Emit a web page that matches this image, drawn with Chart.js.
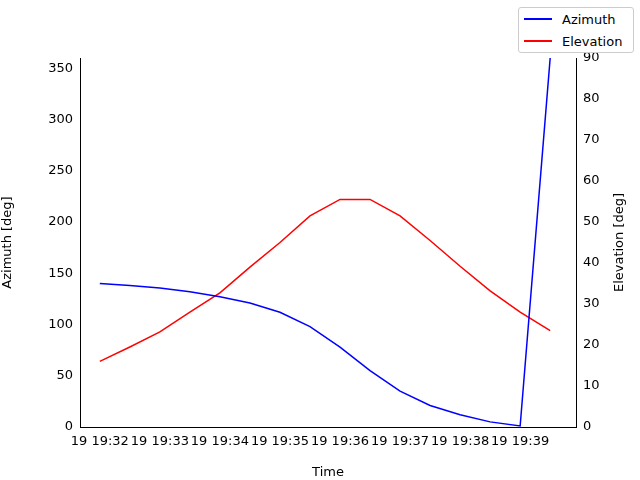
<!DOCTYPE html>
<html>
<head>
<script src="https://cdn.jsdelivr.net/npm/chart.js@4"></script>
<style>
body{margin:0;background:#fff;}
#wrap{position:relative;width:640px;height:480px;}
#legend{position:absolute;left:518px;top:7px;width:114px;height:44px;border:1px solid #ccc;border-radius:3px;background:#fff;font:13px "DejaVu Sans";}
.row{display:flex;align-items:center;height:22px;padding-left:5px;}
.ln{width:28px;height:2px;margin-right:10px;}
</style>
</head>
<body>
<div id="wrap">
<canvas id="c" width="640" height="480"></canvas>
<div id="legend">
<div class="row"><div class="ln" style="background:blue"></div>Azimuth</div>
<div class="row"><div class="ln" style="background:red"></div>Elevation</div>
</div>
</div>
<script>
// minutes after 19:00, one sample every 30 s
const times = [32,32.5,33,33.5,34,34.5,35,35.5,36,36.5,37,37.5,38,38.5,39,39.5];
const azimuth = [140,138,135.5,132,127,121,112,98,78,55,35,21,12,5,1,360];
const elevation = [16,19.5,23.2,28,32.7,39,45,51.5,55.5,55.5,51.5,45.5,39.2,33.2,28,23.5];
const timeTicks = [32,33,34,35,36,37,38,39];
const azTicks = [0,50,100,150,200,250,300,350];

const font = {family: 'DejaVu Sans', size: 13};
const pts = (ys) => ys.map((y, i) => ({x: times[i], y: y}));

// matplotlib-style right axis title (reads bottom to top)
const rightTitle = {
    id: 'rightTitle',
    afterDraw(chart) {
        const a = chart.chartArea, ctx = chart.ctx;
        ctx.save();
        ctx.translate(620, (a.top + a.bottom) / 2);
        ctx.rotate(-Math.PI / 2);
        ctx.font = '13px "DejaVu Sans"';
        ctx.fillStyle = '#000';
        ctx.textAlign = 'center';
        ctx.textBaseline = 'middle';
        ctx.fillText('Elevation [deg]', 0, 0);
        ctx.restore();
    }
};

new Chart(document.getElementById('c'), {
    type: 'line',
    data: {
        datasets: [
            {label: 'Azimuth', data: pts(azimuth), borderColor: 'blue', borderWidth: 1.5, pointRadius: 0, yAxisID: 'y'},
            {label: 'Elevation', data: pts(elevation), borderColor: 'red', borderWidth: 1.5, pointRadius: 0, yAxisID: 'y1'}
        ]
    },
    options: {
        responsive: false,
        animation: false,
        layout: {padding: {top: 58, left: 0, right: 0, bottom: 0}},
        plugins: {legend: {display: false}, tooltip: {enabled: false}},
        scales: {
            x: {
                type: 'linear', min: 31.67, max: 39.93,
                grid: {display: false, tickColor: '#000', tickLength: 4},
                border: {color: '#000'},
                ticks: {color: '#000', font: font, maxRotation: 0, autoSkip: false,
                    callback: (v) => '19 19:' + v},
                afterBuildTicks: (s) => { s.ticks = timeTicks.map(v => ({value: v})); },
                title: {display: true, text: 'Time', color: '#000', font: font, padding: 0},
                afterFit: (s) => { s.height = 53; }
            },
            y: {
                position: 'left', min: 0, max: 360,
                grid: {display: false, tickColor: '#000', tickLength: 4},
                border: {color: '#000'},
                ticks: {color: '#000', font: font},
                afterBuildTicks: (s) => { s.ticks = azTicks.map(v => ({value: v})); },
                title: {display: true, text: 'Azimuth [deg]', color: '#000', font: font, padding: {top: 0, bottom: 8}},
                afterFit: (s) => { s.width = 80; }
            },
            y1: {
                position: 'right', min: 0, max: 90,
                grid: {display: false, tickColor: '#000', tickLength: 4},
                border: {color: '#000'},
                ticks: {stepSize: 10, color: '#000', font: font},
                afterFit: (s) => { s.width = 64; }
            }
        }
    },
    plugins: [rightTitle]
});
</script>
</body>
</html>
